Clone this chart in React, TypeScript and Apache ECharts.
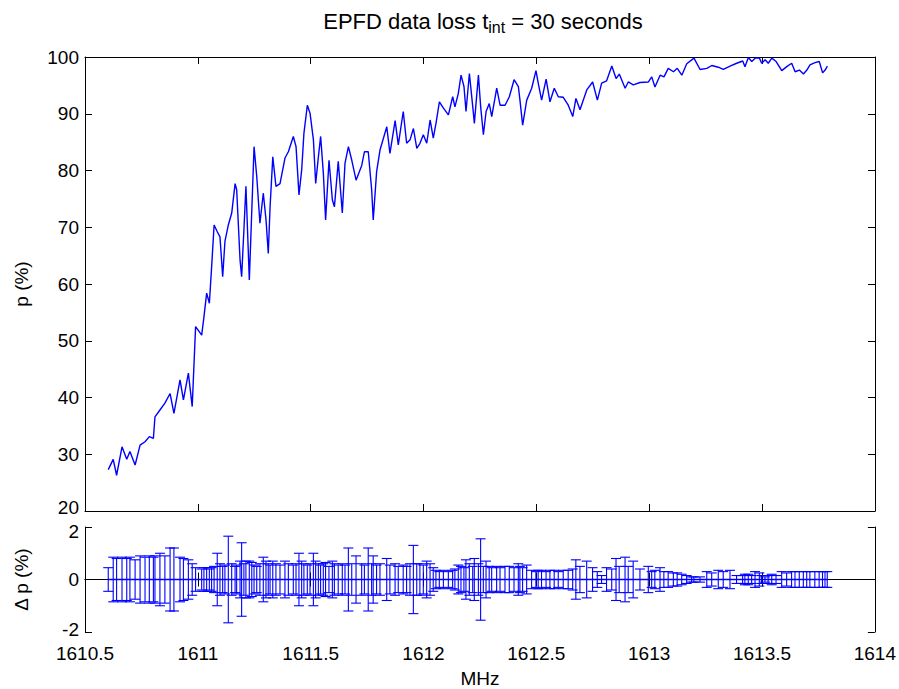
import React, { useEffect, useRef } from "react";
import * as echarts from "echarts";

// Frequency (MHz) of each measured point
const freqMHz = [
  1610.603, 1610.625, 1610.640, 1610.664, 1610.685, 1610.699, 1610.722, 1610.744, 1610.766, 1610.785,
  1610.803, 1610.810, 1610.832, 1610.854, 1610.877, 1610.894, 1610.921, 1610.936, 1610.958, 1610.975,
  1610.990, 1611.017, 1611.027, 1611.039, 1611.051, 1611.061, 1611.072, 1611.086, 1611.098, 1611.110,
  1611.120, 1611.135, 1611.150, 1611.165, 1611.172, 1611.187, 1611.194, 1611.204, 1611.213, 1611.228,
  1611.239, 1611.249, 1611.261, 1611.275, 1611.290, 1611.302, 1611.312, 1611.320, 1611.332, 1611.346,
  1611.364, 1611.386, 1611.401, 1611.423, 1611.435, 1611.448, 1611.460, 1611.470, 1611.485, 1611.497,
  1611.512, 1611.522, 1611.534, 1611.544, 1611.556, 1611.566, 1611.581, 1611.596, 1611.605, 1611.622,
  1611.640, 1611.652, 1611.667, 1611.682, 1611.701, 1611.726, 1611.738, 1611.755, 1611.770, 1611.777,
  1611.792, 1611.807, 1611.837, 1611.851, 1611.874, 1611.888, 1611.910, 1611.925, 1611.940, 1611.955,
  1611.970, 1611.984, 1611.999, 1612.014, 1612.029, 1612.043, 1612.055, 1612.070, 1612.088, 1612.110,
  1612.129, 1612.139, 1612.154, 1612.166, 1612.179, 1612.188, 1612.203, 1612.218, 1612.225, 1612.243,
  1612.253, 1612.265, 1612.277, 1612.291, 1612.302, 1612.324, 1612.339, 1612.361, 1612.380, 1612.401,
  1612.420, 1612.427, 1612.439, 1612.457, 1612.479, 1612.498, 1612.508, 1612.523, 1612.543, 1612.560,
  1612.579, 1612.597, 1612.619, 1612.641, 1612.661, 1612.675, 1612.693, 1612.723, 1612.749, 1612.770,
  1612.789, 1612.811, 1612.834, 1612.853, 1612.867, 1612.893, 1612.907, 1612.929, 1612.959, 1612.996,
  1613.011, 1613.025, 1613.048, 1613.065, 1613.084, 1613.107, 1613.124, 1613.144, 1613.166, 1613.188,
  1613.198, 1613.225, 1613.255, 1613.277, 1613.306, 1613.328, 1613.358, 1613.387, 1613.414, 1613.424,
  1613.439, 1613.454, 1613.469, 1613.488, 1613.498, 1613.513, 1613.527, 1613.543, 1613.562, 1613.587,
  1613.609, 1613.631, 1613.646, 1613.665, 1613.683, 1613.698, 1613.712, 1613.734, 1613.753, 1613.768,
  1613.779, 1613.789,
];

// Data loss p (%)
const pPercent = [
  27.3, 29.1, 26.3, 31.3, 29.1, 30.5, 28.1, 31.6, 32.2, 33.1,
  32.8, 36.6, 37.8, 39.0, 40.7, 37.2, 43.1, 39.6, 44.3, 38.4,
  52.5, 51.0, 54.2, 58.4, 56.6, 63.0, 70.4, 69.2, 68.3, 61.3,
  67.5, 70.4, 72.5, 77.7, 76.6, 64.2, 61.3, 69.5, 77.2, 60.7,
  73.0, 84.2, 78.9, 70.7, 76.0, 71.3, 65.4, 73.6, 82.4, 77.2,
  77.7, 82.2, 83.3, 86.0, 84.2, 75.7, 80.1, 86.6, 91.5, 90.1,
  85.4, 77.7, 82.4, 86.0, 79.5, 71.3, 81.8, 74.8, 73.6, 81.6,
  72.5, 81.3, 84.2, 81.8, 78.3, 80.9, 83.3, 83.3, 76.6, 71.3,
  79.8, 83.6, 87.7, 83.0, 88.8, 84.5, 90.4, 84.8, 85.4, 87.4,
  83.9, 84.8, 86.3, 84.8, 88.9, 85.7, 88.3, 92.1, 91.0, 89.8,
  93.0, 91.2, 93.6, 96.8, 94.8, 90.4, 97.1, 91.2, 88.3, 96.8,
  91.2, 86.3, 90.4, 91.8, 89.5, 94.5, 91.5, 91.5, 93.0, 96.0,
  94.8, 92.4, 88.0, 92.4, 94.5, 97.6, 95.4, 92.4, 96.1, 92.1,
  94.5, 93.0, 92.9, 91.5, 89.5, 92.7, 90.7, 94.2, 95.6, 92.4,
  95.4, 95.8, 98.4, 96.2, 97.0, 94.5, 95.6, 95.1, 95.5, 95.6,
  96.5, 94.7, 96.8, 96.5, 98.0, 97.4, 98.0, 96.8, 98.8, 99.5,
  99.8, 97.8, 98.0, 98.5, 98.2, 97.8, 98.4, 98.9, 99.3, 98.3,
  99.9, 99.2, 99.8, 99.8, 98.9, 99.5, 98.9, 99.8, 99.2, 97.6,
  98.3, 98.9, 97.4, 97.7, 97.0, 97.7, 98.6, 99.0, 99.2, 97.2,
  97.7, 98.4,
];

// Uncertainty of p (half-width of error bar, %)
const dpError = [
  0.45, 0.85, 0.8, 0.85, 0.8, 0.85, 0.75, 0.9, 0.85, 0.9,
  0.85, 0.9, 1.0, 0.9, 1.2, 1.2, 0.85, 0.8, 0.75, 0.6,
  0.45, 0.4, 0.45, 0.45, 0.4, 0.45, 0.5, 1.0, 0.6, 0.5,
  0.55, 1.65, 0.6, 0.5, 0.55, 0.7, 1.4, 0.6, 0.7, 0.7,
  0.65, 0.55, 0.5, 0.6, 0.85, 0.7, 0.6, 0.55, 0.7, 0.6,
  0.55, 0.7, 0.6, 0.55, 0.6, 1.0, 0.7, 0.6, 0.55, 0.6,
  1.0, 0.7, 0.6, 0.55, 0.6, 0.65, 0.5, 0.7, 0.6, 0.55,
  0.6, 0.55, 1.2, 0.6, 0.9, 0.6, 0.55, 1.2, 0.6, 0.9,
  0.55, 0.6, 0.8, 0.55, 0.6, 0.5, 0.55, 0.5, 0.6, 1.3,
  0.6, 0.6, 0.55, 0.7, 0.6, 0.45, 0.35, 0.3, 0.35, 0.3,
  0.35, 0.4, 0.55, 0.5, 0.45, 0.75, 0.6, 0.5, 0.8, 0.6,
  1.55, 0.5, 0.7, 0.5, 0.45, 0.5, 0.45, 0.5, 0.5, 0.45,
  0.6, 0.5, 0.45, 0.55, 0.35, 0.3, 0.35, 0.35, 0.3, 0.35,
  0.35, 0.3, 0.35, 0.35, 0.4, 0.75, 0.5, 0.7, 0.45, 0.3,
  0.15, 0.45, 0.4, 0.8, 0.5, 0.85, 0.5, 0.7, 0.4, 0.5,
  0.3, 0.35, 0.45, 0.3, 0.3, 0.25, 0.25, 0.2, 0.15, 0.1,
  0.1, 0.1, 0.3, 0.25, 0.35, 0.3, 0.35, 0.15, 0.15, 0.2,
  0.2, 0.15, 0.3, 0.25, 0.15, 0.1, 0.15, 0.2, 0.15, 0.3,
  0.25, 0.3, 0.3, 0.3, 0.3, 0.3, 0.3, 0.3, 0.3, 0.3,
  0.3, 0.3,
];

const xMin = 1610.5;
const xMax = 1614;
const xStep = 0.5;
const pMin = 20;
const pMax = 100;
const pStep = 10;
const dMin = -2;
const dMax = 2;
const dStep = 2;

const FONT = "'Liberation Sans', Arial, Helvetica, sans-serif";
const BLUE = "#0000ff";

export default function App() {
  const ref = useRef<HTMLDivElement>(null);

  useEffect(() => {
    if (!ref.current) return;
    const chart = echarts.init(ref.current, undefined, { renderer: "svg" });

    const topLine = freqMHz.map((f, i) => [f, pPercent[i]]);
    const centerLine = freqMHz.map((f) => [f, 0]);
    const errData = freqMHz.map((f, i) => [f, dpError[i]]);

    const axisLine = { show: true, lineStyle: { color: "#000", width: 1 } };
    const tick = { show: true, inside: true, length: 7, lineStyle: { color: "#000", width: 1 } };
    const txt = { color: "#000", fontSize: 19, fontFamily: FONT };
    const label = {
      ...txt,
      formatter: (v: number) => String(v),
    };

    const xBase = (gridIndex: number, position: string, showLabel: boolean, extra: any = {}) => ({
      type: "value",
      gridIndex,
      position,
      min: xMin,
      max: xMax,
      interval: xStep,
      axisLine,
      axisTick: tick,
      splitLine: { show: false },
      axisLabel: { ...label, show: showLabel, margin: 12 },
      ...extra,
    });
    const yBase = (gridIndex: number, position: string, showLabel: boolean, mn: number, mx: number, step: number, extra: any = {}) => ({
      type: "value",
      gridIndex,
      position,
      min: mn,
      max: mx,
      interval: step,
      axisLine,
      axisTick: tick,
      splitLine: { show: false },
      axisLabel: { ...label, show: showLabel, margin: 6 },
      ...extra,
    });

    const nameStyle = { color: "#000", fontSize: 19, fontFamily: FONT };

    const option: any = {
      animation: false,
      backgroundColor: "#ffffff",
      grid: [
        { left: 85, top: 57, width: 790, height: 454 },
        { left: 85, top: 527, width: 790, height: 105 },
      ],
      xAxis: [
        xBase(0, "bottom", false),
        xBase(0, "top", false),
        xBase(1, "bottom", true, {
          name: "MHz",
          nameLocation: "middle",
          nameGap: 37,
          nameTextStyle: nameStyle,
        }),
        xBase(1, "top", false),
      ],
      yAxis: [
        yBase(0, "left", true, pMin, pMax, pStep, {
          name: "p (%)",
          nameLocation: "middle",
          nameGap: 54,
          nameRotate: 90,
          nameTextStyle: nameStyle,
          axisLabel: {
            ...label,
            margin: 6,
            formatter: (v: number) => (v === pMin ? `{lo|${v}}` : String(v)),
            rich: { lo: { ...txt, padding: [0, 0, 8, 0] } },
          },
        }),
        yBase(0, "right", false, pMin, pMax, pStep),
        yBase(1, "left", true, dMin, dMax, dStep, {
          name: "Δ p (%)",
          nameLocation: "middle",
          nameGap: 54,
          nameRotate: 90,
          nameTextStyle: nameStyle,
          axisLabel: {
            ...label,
            margin: 6,
            formatter: (v: number) =>
              v === dMax ? `{hi|${v}}` : v === dMin ? `{lo|${v}}` : String(v),
            rich: {
              hi: { ...txt, padding: [8, 0, 0, 0] },
              lo: { ...txt, padding: [0, 0, 6, 0] },
            },
          },
        }),
        yBase(1, "right", false, dMin, dMax, dStep),
      ],
      graphic: [
        {
          type: "text",
          x: 483,
          y: 21,
          style: {
            text: "{a|EPFD data loss t}{b|int}{a| = 30 seconds}",
            align: "center",
            verticalAlign: "middle",
            fill: "#000",
            rich: {
              a: { fontSize: 22, fontFamily: FONT, fill: "#000" },
              b: { fontSize: 16, fontFamily: FONT, fill: "#000", padding: [13, 0, 0, 0] },
            },
          },
        },
      ],
      series: [
        {
          type: "line",
          xAxisIndex: 0,
          yAxisIndex: 0,
          data: topLine,
          showSymbol: false,
          symbol: "none",
          lineStyle: { color: BLUE, width: 1.4 },
          itemStyle: { color: BLUE },
        },
        {
          type: "custom",
          xAxisIndex: 2,
          yAxisIndex: 2,
          data: errData,
          encode: { x: 0, y: 1 },
          renderItem: (params: any, api: any) => {
            const x = api.value(0);
            const e = api.value(1);
            const top = api.coord([x, e]);
            const bot = api.coord([x, -e]);
            const hw = 5;
            const st = { stroke: BLUE, lineWidth: 1.1, fill: "none" };
            return {
              type: "group",
              children: [
                { type: "line", shape: { x1: top[0], y1: top[1], x2: bot[0], y2: bot[1] }, style: st },
                { type: "line", shape: { x1: top[0] - hw, y1: top[1], x2: top[0] + hw, y2: top[1] }, style: st },
                { type: "line", shape: { x1: bot[0] - hw, y1: bot[1], x2: bot[0] + hw, y2: bot[1] }, style: st },
              ],
            };
          },
        },
        {
          type: "line",
          xAxisIndex: 2,
          yAxisIndex: 2,
          data: centerLine,
          showSymbol: false,
          symbol: "none",
          lineStyle: { color: BLUE, width: 1.4 },
          itemStyle: { color: BLUE },
        },
      ],
    };

    chart.setOption(option);
    return () => chart.dispose();
  }, []);

  return (
    <div
      ref={ref}
      style={{ position: "fixed", left: 0, top: 0, width: 899, height: 689, background: "#fff" }}
    />
  );
}
